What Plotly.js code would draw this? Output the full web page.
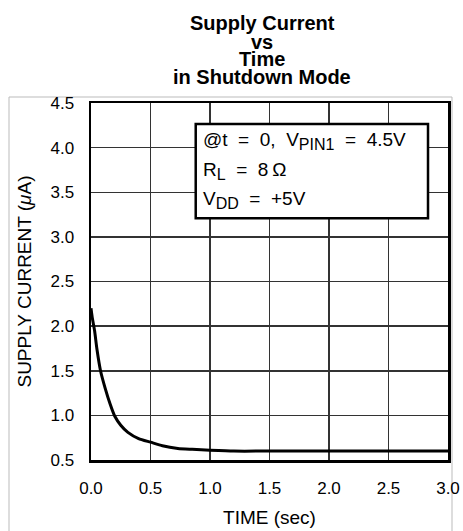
<!DOCTYPE html>
<html>
<head>
<meta charset="utf-8">
<script src="https://cdn.plot.ly/plotly-3.0.1.min.js"></script>
<style>html,body{margin:0;padding:0;background:#fff;}#chart{width:463px;height:531px;}</style>
</head>
<body>
<div id="chart"></div>
<script>
// Data
const timeSec = [0, 0.01, 0.03, 0.05, 0.08, 0.12, 0.16, 0.2, 0.25, 0.31, 0.4, 0.5, 0.6, 0.73, 0.85, 1.0, 1.2, 1.5, 2.0, 2.5, 3.0];
const supplyCurrent = [2.2, 2.1, 1.95, 1.74, 1.5, 1.3, 1.13, 0.99, 0.89, 0.81, 0.74, 0.70, 0.66, 0.63, 0.62, 0.61, 0.60, 0.60, 0.60, 0.60, 0.60];
const xTicks = [0, 0.5, 1.0, 1.5, 2.0, 2.5, 3.0];
const xTickLabels = ["0.0", "0.5", "1.0", "1.5", "2.0", "2.5", "3.0"];
const yTicks = [0.5, 1.0, 1.5, 2.0, 2.5, 3.0, 3.5, 4.0, 4.5];
const yTickLabels = ["0.5", "1.0", "1.5", "2.0", "2.5", "3.0", "3.5", "4.0", "4.5"];
const titleLines = ["Supply Current", "vs", "Time", "in Shutdown Mode"];
const SP = "\u00A0\u00A0";
const noteLines = [
  "@t" + SP + "=" + SP + "0," + SP + "V<sub><span style=\"font-size:16px\">PIN1</span></sub>" + SP + "=" + SP + "4.5V",
  "R<sub><span style=\"font-size:16px\">L</span></sub>" + SP + "=" + SP + "8\u2009\u03A9",
  "V<sub><span style=\"font-size:16px\">DD</span></sub>" + SP + "=" + SP + "+5V"
];

const FONT = "Liberation Sans, Arial, sans-serif";

const trace = {
  x: timeSec, y: supplyCurrent, type: 'scatter', mode: 'lines',
  line: {color: '#000', width: 3, shape: 'spline', smoothing: 0.6},
  hoverinfo: 'skip', showlegend: false
};

const annotations = [];
const titleY = [1.224, 1.172, 1.124, 1.072];
titleLines.forEach((t, i) => annotations.push({
  text: '<b>' + t + '</b>', xref: 'paper', yref: 'paper',
  x: (262 - 91) / 357, y: titleY[i], xanchor: 'center', yanchor: 'middle',
  showarrow: false, font: {family: FONT, size: 20, color: '#000'}
}));
const noteY = [4.07, 3.74, 3.41];
noteLines.forEach((t, i) => annotations.push({
  text: t, xref: 'x', yref: 'y', x: 0.925, y: noteY[i],
  xanchor: 'left', yanchor: 'middle', showarrow: false,
  font: {family: FONT, size: 19, color: '#000'}
}));

const layout = {
  width: 463, height: 531,
  margin: {l: 91, r: 15, t: 103, b: 71, pad: 0},
  paper_bgcolor: '#fff', plot_bgcolor: '#fff',
  font: {family: FONT, size: 17, color: '#000'},
  xaxis: {
    range: [0, 3], tickvals: xTicks, ticktext: xTickLabels,
    showgrid: true, gridcolor: '#333', gridwidth: 1.5, zeroline: false,
    showline: true, linecolor: '#000', linewidth: 2.5, mirror: true,
    ticks: 'outside', ticklen: 11, tickcolor: 'rgba(0,0,0,0)',
    tickfont: {family: FONT, size: 17, color: '#000'},
    title: {text: 'TIME (sec)', font: {family: FONT, size: 19, color: '#000'}, standoff: 14}
  },
  yaxis: {
    range: [0.5, 4.5], tickvals: yTicks, ticktext: yTickLabels,
    showgrid: true, gridcolor: '#333', gridwidth: 1.5, zeroline: false,
    showline: true, linecolor: '#000', linewidth: 2.5, mirror: true,
    ticks: 'outside', ticklen: 11, tickcolor: 'rgba(0,0,0,0)',
    tickfont: {family: FONT, size: 17, color: '#000'},
    title: {text: 'SUPPLY CURRENT (<i>\u03BC</i>A)', font: {family: FONT, size: 19, color: '#000'}, standoff: 14}
  },
  shapes: [
    {type: 'rect', xref: 'paper', yref: 'paper',
     x0: (9 - 91) / 357, x1: (452 - 91) / 357, y0: -0.3, y1: 1 + (103 - 97) / 357,
     line: {color: '#bbb', width: 1}, fillcolor: 'rgba(0,0,0,0)', layer: 'below'},
    {type: 'rect', xref: 'x', yref: 'y', x0: 0.88, x1: 2.832, y0: 3.21, y1: 4.265,
     line: {color: '#000', width: 2.5}, fillcolor: '#fff', layer: 'above'}
  ],
  annotations: annotations
};

Plotly.newPlot('chart', [trace], layout, {staticPlot: true, displayModeBar: false});
</script>
</body>
</html>
